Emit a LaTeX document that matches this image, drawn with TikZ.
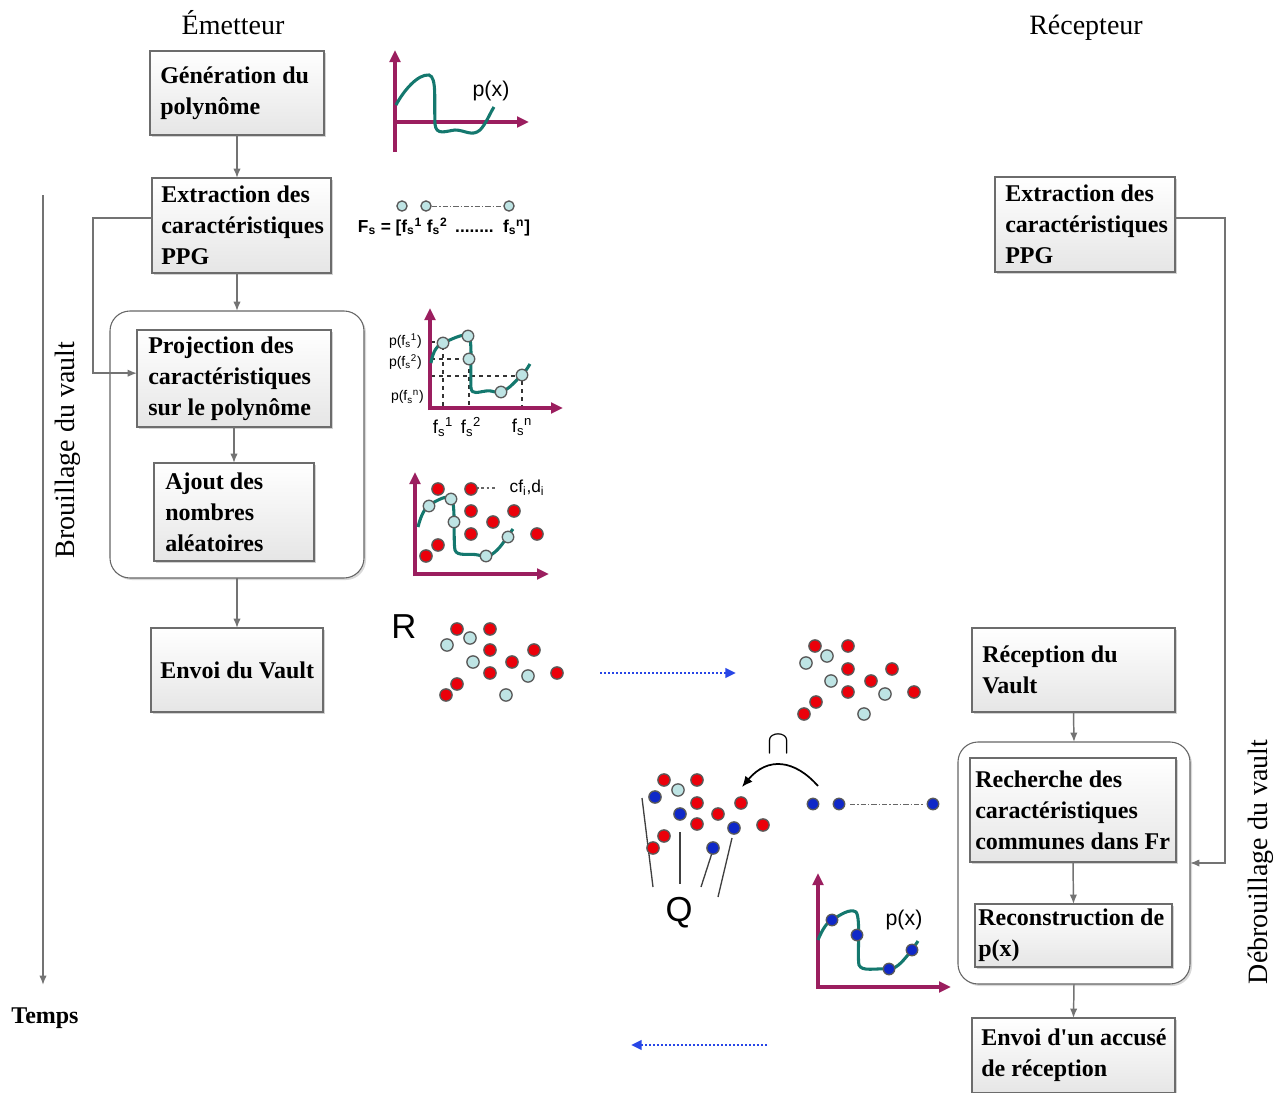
\documentclass[tikz,border=0pt]{standalone}
\usepackage{fontspec}
\setmainfont{Liberation Serif}
\newfontfamily\arial{Liberation Sans}
\usetikzlibrary{arrows.meta,shadows}
\definecolor{axcol}{RGB}{155,30,95}
\definecolor{tealc}{RGB}{20,120,110}
\definecolor{lblue}{RGB}{190,228,228}
\definecolor{rdcol}{RGB}{235,0,10}
\definecolor{bdcol}{RGB}{15,40,200}
\definecolor{dblue}{RGB}{40,70,230}
\definecolor{conncol}{RGB}{115,115,115}
\newcommand\fsx[1]{f\textsubscript{s}\textsuperscript{#1}}
\begin{document}
\begin{tikzpicture}[x=0.75pt,y=-0.75pt,
  pbox/.style={draw=gray!85!black, line width=0.8pt, top color=white, bottom color=gray!20,
    drop shadow={shadow xshift=1.8pt,shadow yshift=-1.8pt,opacity=0.35},
    inner sep=0pt, outer sep=0pt},
  btext/.style={font=\fontsize{18}{23.25}\selectfont\bfseries, align=left, inner sep=0pt, anchor=west},
  contbox/.style={draw=gray!80!black, line width=0.8pt, rounded corners=15pt, fill=white,
    drop shadow={shadow xshift=1.5pt,shadow yshift=-1.5pt,opacity=0.3}, inner sep=0pt, outer sep=0pt},
  conn/.style={draw=conncol, line width=1.1pt, -{Latex[length=7pt,width=5.5pt]}},
  axisl/.style={draw=axcol, line width=2.3pt, -{Triangle[length=9pt,width=8pt]}},
  curvel/.style={draw=tealc, line width=2.3pt},
  rdot/.style={fill=rdcol, draw=black!65, line width=1pt},
  ldot/.style={fill=lblue, draw=black!65, line width=1pt},
  bdot/.style={fill=bdcol, draw=black!65, line width=1pt},
  ttl/.style={font=\fontsize{21}{24}\selectfont},
  sflab/.style={font=\arial\fontsize{#1}{#1}\selectfont, inner sep=0pt},
  dotarrow/.style={draw=dblue, line width=2pt, dash pattern=on 1.6pt off 1.4pt, -{Triangle[length=8pt,width=7pt]}}
]
\useasboundingbox (0,0) rectangle (1283,1093);

% titles
\node[ttl, anchor=base] (tEm) at (233,34) {Émetteur};
\node[ttl, anchor=base] (tRe) at (1086,34) {Récepteur};
\node[ttl, rotate=90] (tBr) at (68,450) {Brouillage du vault};
\node[ttl, rotate=90] (tDe) at (1261,862) {Débrouillage du vault};
\node[font=\fontsize{18}{20}\selectfont\bfseries] (temps) at (45,1018) {Temps};

% containers
\node[contbox, minimum width=190.5pt, minimum height=200.25pt] (lc) at (237,444.5) {};
\node[contbox, minimum width=174pt, minimum height=181.5pt] (rc) at (1074,863) {};

% left boxes
\node[pbox, minimum width=130.5pt, minimum height=63pt] (b1) at (237,93) {};
\node[btext] (b1t) at ([xshift=7.5pt]b1.west) {Génération du\\polynôme};
\node[pbox, minimum width=134.25pt, minimum height=71.25pt] (b2) at (241.5,225.5) {};
\node[btext] (b2t) at ([xshift=6.75pt]b2.west) {Extraction des\\caractéristiques\\PPG};
\node[pbox, minimum width=145.5pt, minimum height=72.75pt] (b3) at (234,378.5) {};
\node[btext] (b3t) at ([xshift=8.25pt]b3.west) {Projection des\\caractéristiques\\sur le polynôme};
\node[pbox, minimum width=120pt, minimum height=73.5pt] (b4) at (234,512) {};
\node[btext] (b4t) at ([xshift=8.25pt]b4.west) {Ajout des\\nombres\\aléatoires};
\node[pbox, minimum width=129pt, minimum height=63pt] (b5) at (237,670) {};
\node[btext] (b5t) at ([xshift=6.75pt]b5.west) {Envoi du Vault};

% right boxes
\node[pbox, minimum width=135pt, minimum height=71.25pt] (r1) at (1085,224.5) {};
\node[btext] (r1t) at ([xshift=7.5pt]r1.west) {Extraction des\\caractéristiques\\PPG};
\node[pbox, minimum width=152.25pt, minimum height=63pt] (r2) at (1073.5,670) {};
\node[btext] (r2t) at ([xshift=7.5pt]r2.west) {Réception du\\Vault};
\node[pbox, minimum width=154.5pt, minimum height=78pt] (r3) at (1073,810) {};
\node[btext] (r3t) at ([xshift=3.75pt]r3.west) {Recherche des\\caractéristiques\\communes dans Fr};
\node[pbox, minimum width=147.75pt, minimum height=47.25pt] (r4) at (1073.5,935.5) {};
\node[btext] (r4t) at ([xshift=2.25pt]r4.west) {Reconstruction de\\p(x)};
\node[pbox, minimum width=152.25pt, minimum height=56.25pt] (r5) at (1073.5,1055.5) {};
\node[btext] (r5t) at ([xshift=6.75pt]r5.west) {Envoi d\textquotesingle un accusé\\de réception};

% connectors left
\draw[conn] (b1.south) -- (b1.south |- b2.north);
\draw[conn] (lc.north |- b2.south) -- (lc.north);
\draw[conn] (b3.south) -- (b4.north);
\draw[conn] (lc.south) -- (b5.north);
\draw[conn] ([yshift=5.6pt]b2.west) -- ++(-59,0) |- ([yshift=4pt]b3.west);
% connectors right
\draw[conn] (r2.south) -- (rc.north);
\draw[conn] (r3.south) -- (r4.north);
\draw[conn] (rc.south) -- (r5.north);
\draw[conn] ([yshift=4.9pt]r1.east) -- ++(50,0) |- (rc.east);
% timeline
\coordinate (tl0) at (43,195);
\coordinate (tl1) at (43,985);
\draw[conn] (tl0) -- (tl1);

% blue dotted arrows
\coordinate (da0) at (600,673);
\coordinate (da1) at (736,673);
\draw[dotarrow] (da0) -- (da1);
\coordinate (db0) at (767,1045);
\coordinate (db1) at (631,1045);
\draw[dotarrow] (db0) -- (db1);

% ---- graph 1 : p(x)
\draw[axisl] (395,152) -- (395,50);
\draw[axisl] (393,122) -- (529,122);
\draw[curvel] (396,105) .. controls (404,90) and (418,74) .. (429,75)
  .. controls (437,77) and (434,100) .. (435,124)
  .. controls (436,136) and (446,131) .. (455,130)
  .. controls (465,130) and (472,137) .. (480,130)
  .. controls (486,124) and (490,113) .. (494,107);
\node[sflab=16] (px1) at (491,91) {p(x)};

% ---- Fs row
\draw[black!60, line width=0.7pt, dash pattern=on 4pt off 1.5pt on 1pt off 1.5pt] (432,206) -- (503,206);
\foreach \p in {(402,206),(426,206),(509,206)} \draw[ldot] \p circle[radius=3.8pt];
\node[sflab=13] (fsrow) at (444,227) {\bfseries F\textsubscript{s} = [\fsx{1} \fsx{2} \,........\, \fsx{n}]};

% ---- graph 2 : projection
\draw[black!80, line width=0.8pt, dashed] (431,342) -- (443,342) -- (443,408);
\draw[black!80, line width=0.8pt, dashed] (431,359) -- (469,359) -- (469,408);
\draw[black!80, line width=0.8pt, dashed] (431,376) -- (522,376) -- (522,408);
\draw[axisl] (430,410) -- (430,308);
\draw[axisl] (428,408) -- (563,408);
\draw[curvel] (431,363) .. controls (433,350) and (438,345) .. (443,343)
  .. controls (452,339) and (462,334) .. (468,335)
  .. controls (473,337) and (470,370) .. (471,388)
  .. controls (472,395) and (478,392) .. (486,391)
  .. controls (494,390) and (496,394) .. (501,392)
  .. controls (510,389) and (516,380) .. (522,375)
  .. controls (526,371) and (528,367) .. (530,364);
\foreach \p in {(443,343),(468,336),(469,359),(501,392),(522,375)} \draw[ldot] \p circle[radius=4.3pt];
\node[sflab=10.5, anchor=east] (pf1) at (422,341) {p(f\textsubscript{s}\textsuperscript{1})};
\node[sflab=10.5, anchor=east] (pf2) at (422,362) {p(f\textsubscript{s}\textsuperscript{2})};
\node[sflab=10.5, anchor=east] (pfn) at (424,397) {p(f\textsubscript{s}\textsuperscript{n})};
\node[sflab=14] (f1) at (443,427) {\fsx{1}};
\node[sflab=14] (f2) at (471,427) {\fsx{2}};
\node[sflab=14] (fn) at (522,427) {\fsx{n}};

% ---- graph 3 : chaff
\draw[axisl] (415,576) -- (415,472);
\draw[axisl] (413,574) -- (549,574);
\draw[curvel] (418,527) .. controls (421,515) and (425,508) .. (429,505)
  .. controls (438,500) and (446,495) .. (451,498)
  .. controls (456,502) and (453,540) .. (455,550)
  .. controls (457,557) and (470,553) .. (478,555)
  .. controls (484,557) and (490,557) .. (495,552)
  .. controls (502,546) and (506,538) .. (513,529);
\draw[black!60, line width=0.8pt, dash pattern=on 2pt off 2pt] (476,488) -- (497,488);
\foreach \p in {(438,489),(471,489),(471,511),(493,522),(514,511),(471,534),(537,534),(438,545),(426,556)} \draw[rdot] \p circle[radius=4.6pt];
\foreach \p in {(429,506),(451,499),(454,522),(486,556),(508,537)} \draw[ldot] \p circle[radius=4.3pt];
\node[sflab=13] (cfd) at (527,488) {cf\textsubscript{i},d\textsubscript{i}};

% ---- R cluster
\node[sflab=26] (Rl) at (404,627) {R};
\foreach \p in {(457,629),(490,629),(490,650),(534,650),(512,662),(490,673),(557,673),(457,684),(446,695)} \draw[rdot] \p circle[radius=4.6pt];
\foreach \p in {(447,645),(470,638),(473,662),(528,676),(506,695)} \draw[ldot] \p circle[radius=4.6pt];

% ---- right cluster
\foreach \p in {(815,646),(848,646),(848,669),(892,669),(871,681),(848,692),(914,692),(816,702),(804,714)} \draw[rdot] \p circle[radius=4.6pt];
\foreach \p in {(806,663),(827,656),(831,681),(885,694),(864,714)} \draw[ldot] \p circle[radius=4.6pt];

% ---- intersection
\node[font=\fontsize{26}{26}\selectfont, inner sep=0pt] (capsym) at (779,744) {$\cap$};
\coordinate (qa) at (818,786);
\coordinate (qb) at (742,787);
\draw[black, line width=1.3pt, -{Latex[length=8pt,width=7pt]}] (qa) .. controls (795,760) and (768,756) .. (qb);
\draw[black!60, line width=0.7pt, dash pattern=on 4pt off 1.5pt on 1pt off 1.5pt] (850,804) -- (923,804);
\foreach \p in {(813,804),(839,804),(933,804)} \draw[bdot] \p circle[radius=4.3pt];

% ---- Q bucket
\draw[black!75, line width=1pt] (642,798) -- (653,887);
\draw[black!75, line width=1pt] (680,832) -- (680,884);
\draw[black!75, line width=1pt] (712,853) -- (701,887);
\draw[black!75, line width=1pt] (732,838) -- (718,897);
\foreach \p in {(664,780),(697,780),(697,803),(741,803),(718,814),(697,824),(763,825),(664,836),(653,848)} \draw[rdot] \p circle[radius=4.6pt];
\foreach \p in {(655,797),(680,814),(734,828),(713,848)} \draw[bdot] \p circle[radius=4.6pt];
\draw[ldot] (678,790) circle[radius=4.6pt];
\node[sflab=26] (Ql) at (679,913) {Q};

% ---- graph 4 : reconstructed p(x)
\draw[axisl] (818,989) -- (818,873);
\draw[axisl] (816,987) -- (951,987);
\draw[curvel] (818,940) .. controls (822,930) and (827,922) .. (832,920)
  .. controls (840,915) and (850,908) .. (856,912)
  .. controls (861,918) and (857,955) .. (859,965)
  .. controls (862,972) and (875,968) .. (889,969)
  .. controls (898,969) and (905,958) .. (912,950)
  .. controls (914,947) and (916,944) .. (918,941);
\foreach \p in {(832,920),(857,935),(889,969),(912,950)} \draw[bdot] \p circle[radius=4.3pt];
\node[sflab=16] (px2) at (904,920) {p(x)};
\end{tikzpicture}
\end{document}
